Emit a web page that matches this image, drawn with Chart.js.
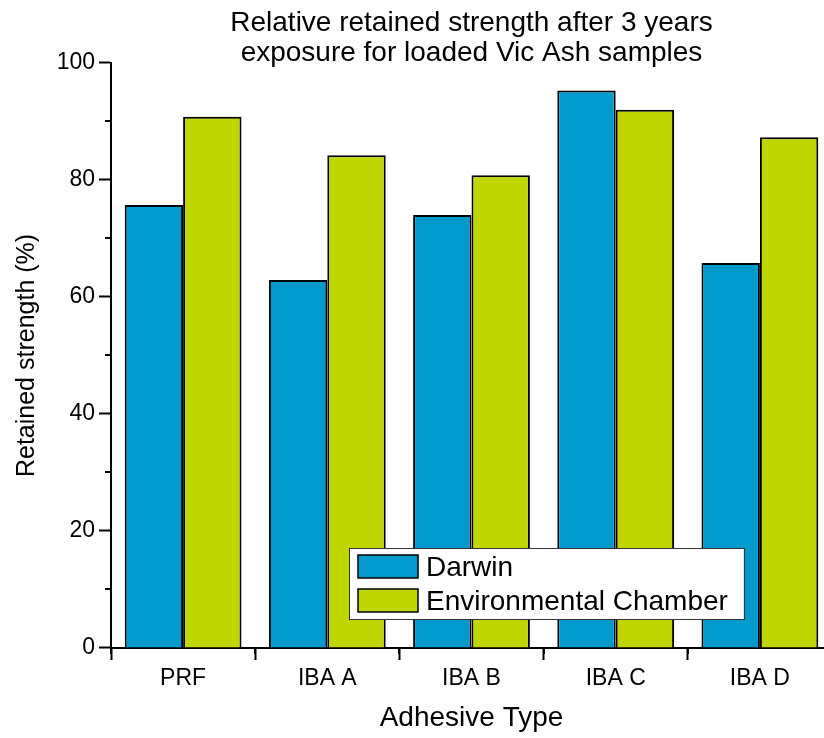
<!DOCTYPE html>
<html>
<head>
<meta charset="utf-8">
<script src="https://cdn.jsdelivr.net/npm/chart.js@4/dist/chart.umd.min.js"></script>
<style>
    html, body { margin: 0; padding: 0; background: #fff; overflow: hidden; }
    #wrap { width: 824px; height: 738px; overflow: hidden; }
    canvas { display: block; }
</style>
</head>
<body>
<div id="wrap"><canvas id="strengthChart" width="940" height="738"></canvas></div>
<script>
const adhesives = ['PRF', 'IBA A', 'IBA B', 'IBA C', 'IBA D'];
const darwin = [75.7, 62.9, 74.0, 95.3, 65.8];
const envChamber = [90.8, 84.2, 80.8, 92.0, 87.3];
const seriesNames = ['Darwin', 'Environmental Chamber'];
const yTicks = [0, 20, 40, 60, 80, 100];
const yMinorTicks = [10, 30, 50, 70, 90];

const FONT = 'Liberation Sans, Arial, sans-serif';

// centre the title over the plot area instead of the whole canvas
const titleOverPlot = {
    id: 'titleOverPlot',
    afterLayout(chart) {
        const tb = chart.titleBlock;
        if (!tb) return;
        tb.left = chart.chartArea.left;
        tb.right = chart.chartArea.right;
        tb.width = tb.right - tb.left;
    }
};

// minor tick marks (y between labels, x between categories)
const minorTicks = {
    id: 'minorTicks',
    afterDraw(chart) {
        const { ctx, scales: { x, y } } = chart;
        ctx.save();
        ctx.strokeStyle = '#000';
        ctx.lineWidth = 2;
        ctx.beginPath();
        yMinorTicks.forEach(v => {
            const py = Math.round(y.getPixelForValue(v));
            ctx.moveTo(x.left - 6, py);
            ctx.lineTo(x.left, py);
        });
        const half = (x.getPixelForTick(1) - x.getPixelForTick(0)) / 2;
        for (let i = 0; i <= adhesives.length; i++) {
            const px = Math.round(x.getPixelForTick(0) - half + i * half * 2);
            ctx.moveTo(px, y.bottom);
            ctx.lineTo(px, y.bottom + 6);
        }
        ctx.stroke();
        ctx.restore();
    }
};

// legend box drawn inside the plot area
const boxLegend = {
    id: 'boxLegend',
    afterDraw(chart) {
        const { ctx, chartArea } = chart;
        const left = chartArea.left + 238;
        const top = chartArea.bottom - 100;
        const rowH = 34;
        ctx.save();
        ctx.font = '28px ' + FONT;
        const textW = Math.max(...chart.data.datasets.map(d => ctx.measureText(d.label).width));
        const w = 9 + 60 + 8 + textW + 16;
        const h = 71;
        ctx.fillStyle = '#fff';
        ctx.fillRect(left, top, w, h);
        ctx.strokeStyle = '#333';
        ctx.lineWidth = 1;
        ctx.strokeRect(left + 0.5, top + 0.5, w, h);
        chart.data.datasets.forEach((ds, i) => {
            const sy = top + 7 + i * rowH;
            ctx.fillStyle = ds.backgroundColor;
            ctx.fillRect(left + 9, sy, 60, 23);
            ctx.strokeStyle = '#000';
            ctx.lineWidth = 1.5;
            ctx.strokeRect(left + 9, sy, 60, 23);
            ctx.fillStyle = '#000';
            ctx.textBaseline = 'middle';
            ctx.fillText(ds.label, left + 9 + 60 + 8, sy + 13);
        });
        ctx.restore();
    }
};

const ctx = document.getElementById('strengthChart').getContext('2d');
const strengthChart = new Chart(ctx, {
    type: 'bar',
    data: {
        labels: adhesives,
        datasets: [{
            label: seriesNames[0],
            data: darwin,
            backgroundColor: 'rgb(0, 154, 204)',
            borderColor: '#000',
            borderWidth: 2
        }, {
            label: seriesNames[1],
            data: envChamber,
            backgroundColor: 'rgb(191, 214, 0)',
            borderColor: '#000',
            borderWidth: 2
        }]
    },
    options: {
        responsive: false,
        animation: false,
        layout: { padding: { left: 0, right: 108, top: 0, bottom: 0 } },
        datasets: {
            bar: { barPercentage: 1, categoryPercentage: 0.81 }
        },
        plugins: {
            legend: { display: false },
            tooltip: { enabled: false },
            title: {
                display: true,
                text: ['Relative retained strength after 3 years', 'exposure for loaded Vic Ash samples'],
                color: '#000',
                font: { family: FONT, size: 28, weight: 'normal', lineHeight: 1.07 },
                padding: { top: 8, bottom: -5 }
            }
        },
        scales: {
            x: {
                grid: { display: true, drawOnChartArea: false, tickLength: 12, tickWidth: 2, tickColor: '#000' },
                border: { display: true, color: '#000', width: 2 },
                ticks: { color: '#000', font: { family: FONT, size: 23 }, padding: 5 },
                title: {
                    display: true,
                    text: 'Adhesive Type',
                    color: '#000',
                    font: { family: FONT, size: 28 },
                    padding: { top: 0, bottom: 3 }
                },
                afterFit: s => { s.height = 90; }
            },
            y: {
                min: 0,
                max: 100,
                afterBuildTicks: s => { s.ticks = yTicks.map(v => ({ value: v })); },
                grid: { display: true, drawOnChartArea: false, tickLength: 12, tickWidth: 2, tickColor: '#000' },
                border: { display: true, color: '#000', width: 2 },
                ticks: { color: '#000', font: { family: FONT, size: 23 }, padding: 4 },
                title: {
                    display: true,
                    text: 'Retained strength (%)',
                    color: '#000',
                    font: { family: FONT, size: 25 },
                    padding: { top: 12, bottom: 0 }
                },
                afterFit: s => { s.width = 111; }
            }
        }
    },
    plugins: [titleOverPlot, minorTicks, boxLegend]
});
</script>
</body>
</html>
